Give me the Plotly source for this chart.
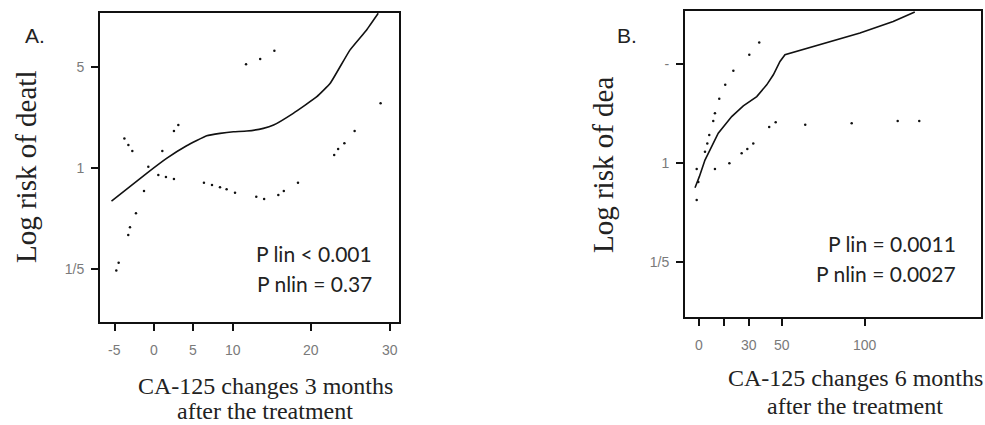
import plotly.graph_objects as go

# ---- Panel A data ----
a_curve_x = [-5.4, -0.93, 1.6, 4.15, 6.7, 8.39, 10.1, 11.8, 13.9, 15.2, 17.7, 20.7, 22.4, 24.9, 27.0, 28.5]
a_curve_y = [0.588, 0.915, 1.161, 1.42, 1.665, 1.729, 1.773, 1.794, 1.873, 1.975, 2.38, 3.10, 3.84, 6.52, 8.96, 11.73]
a_pts_x = [-3.76, -3.25, -2.75, -0.72, -1.27, 0.55, 1.52, 2.54, 1.06, 2.54, 3.09, 6.35, 7.37, 8.39,
           9.23, 10.3, 11.7, 13.5, 15.3, 13.0, 14.0, 15.8, 16.5, 18.3, 22.9, 23.4, 24.2, 25.5, 28.8,
           -2.29, -3.05, -3.27, -4.49, -4.79]
a_pts_y = [1.595, 1.436, 1.304, 1.016, 0.691, 0.891, 0.862, 0.835, 1.304, 1.794, 1.975, 0.788, 0.759, 0.732,
           0.709, 0.672, 5.20, 5.65, 6.45, 0.630, 0.607, 0.648, 0.691, 0.788, 1.225, 1.347, 1.476, 1.794, 2.79,
           0.483, 0.387, 0.342, 0.220, 0.194]
a_xticks = [-5, 0, 5, 10, 20, 30]
a_xtick_text = ["-5", "0", "5", "10", "20", "30"]
a_yticks = [0.2, 1, 5]
a_ytick_text = ["1/5", "1", "5"]

# ---- Panel B data ----
b_curve_x = [-2.4, 0.2, 3.6, 7.6, 11.6, 19.7, 26.7, 34.8, 40.8, 44.8, 48.8, 51.8, 76.9, 97, 117, 130]
b_curve_y = [0.673, 0.805, 1.054, 1.310, 1.628, 2.135, 2.54, 2.953, 3.572, 4.203, 5.213, 5.817, 7.034, 8.277, 9.99, 11.64]
b_pts_x = [-1.4, -1.4, -0.4, 9.6, 18.3, 25.7, 29.1, 32.7, 3.6, 5.0, 6.2, 8.6, 9.6, 12.2, 15.8, 20.7,
           30.3, 36.3, 42.3, 46.2, 64, 92, 119.7, 132.7]
b_pts_y = [0.551, 0.911, 0.737, 0.911, 1.0, 1.175, 1.261, 1.380, 1.207, 1.380, 1.585, 1.988, 2.254, 2.847,
           3.572, 4.481, 5.817, 7.10, 1.805, 1.947, 1.865, 1.916, 1.988, 1.988]
b_xticks = [0, 15, 30, 50, 100]
b_xtick_text = ["0", "", "30", "50", "100"]
b_yticks = [0.2, 1, 5]
b_ytick_text = ["1/5", "1", "-"]

W, H = 985, 425

fig = go.Figure()
fig.add_trace(go.Scatter(x=a_pts_x, y=a_pts_y, mode="markers", marker=dict(size=2.5, color="#111"),
                         xaxis="x", yaxis="y", showlegend=False))
fig.add_trace(go.Scatter(x=a_curve_x, y=a_curve_y, mode="lines",
                         line=dict(color="#111", width=1.6, shape="spline", smoothing=0.35),
                         xaxis="x", yaxis="y", showlegend=False))
fig.add_trace(go.Scatter(x=b_pts_x, y=b_pts_y, mode="markers", marker=dict(size=2.5, color="#111"),
                         xaxis="x2", yaxis="y2", showlegend=False))
fig.add_trace(go.Scatter(x=b_curve_x, y=b_curve_y, mode="lines", line=dict(color="#111", width=1.6),
                         xaxis="x2", yaxis="y2", showlegend=False))

tickfont = dict(family="Liberation Sans, Arial", size=14, color="#7a7a7a")
base = dict(showgrid=False, zeroline=False)
frame = dict(showline=True, linecolor="#111", linewidth=2, mirror=True, ticks="outside",
             ticklen=7, tickwidth=1.5, tickcolor="#111")

fig.update_layout(
    width=W, height=H, margin=dict(l=0, r=0, t=0, b=0),
    paper_bgcolor="white", plot_bgcolor="white",
    xaxis=dict(domain=[100 / W, 399 / W], range=[-6.86, 31.14], tickvals=a_xticks, showticklabels=False,
               anchor="y", **base, **frame),
    yaxis=dict(domain=[1 - 322 / H, 1 - 13 / H], type="log", range=[-1.068, 1.071], tickvals=a_yticks,
               ticktext=a_ytick_text, anchor="x", ticklabelstandoff=4, tickfont=tickfont, **base, **frame),
    xaxis2=dict(domain=[685 / W, 981 / W], range=[-8.43, 169.9], tickvals=b_xticks, showticklabels=False,
                anchor="y2", **base, **frame),
    yaxis2=dict(domain=[1 - 317 / H, 1 - 11 / H], type="log", range=[-1.083, 1.073], tickvals=b_yticks,
                ticktext=b_ytick_text, anchor="x2", ticklabelstandoff=4, tickfont=tickfont, **base, **frame),
)

# x tick labels placed at the tick values through each x axis
for v, t in zip(a_xticks, a_xtick_text):
    fig.add_annotation(x=v, xref="x", y=1 - 350 / H, yref="paper", text=t, showarrow=False,
                       font=tickfont, xanchor="center", yanchor="middle")
for v, t in zip(b_xticks, b_xtick_text):
    if t:
        fig.add_annotation(x=v, xref="x2", y=1 - 345 / H, yref="paper", text=t, showarrow=False,
                           font=tickfont, xanchor="center", yanchor="middle")

serif = "Liberation Serif, Times New Roman, serif"
sans = "Liberation Sans, Arial, sans-serif"
pfont = dict(family="Lato, sans-serif", size=21, color="#222")
tfont = dict(family=serif, size=24, color="#222")

def px(x, y):
    return dict(x=x / W, y=1 - y / H, xref="paper", yref="paper")

annots = [
    dict(text="A.", font=dict(family=sans, size=21, color="#222"), xanchor="center", yanchor="middle", **px(35, 35)),
    dict(text="B.", font=dict(family=sans, size=21, color="#222"), xanchor="center", yanchor="middle", **px(627, 35)),
    dict(text="Log risk of deatl", textangle=-90, font=dict(family=serif, size=29, color="#222"),
         xanchor="center", yanchor="middle", **px(26, 167)),
    dict(text="Log risk of dea", textangle=-90, font=dict(family=serif, size=29, color="#222"),
         xanchor="center", yanchor="middle", **px(603, 165)),
    dict(text="CA-125 changes 3 months", font=tfont, xanchor="center", yanchor="middle", **px(265, 386)),
    dict(text="after the treatment", font=tfont, xanchor="center", yanchor="middle", **px(265, 411)),
    dict(text="CA-125 changes 6 months", font=tfont, xanchor="center", yanchor="middle", **px(855, 378)),
    dict(text="after the treatment", font=tfont, xanchor="center", yanchor="middle", **px(855, 406)),
    dict(text="P lin < 0.001", font=pfont, xanchor="right", yanchor="middle", **px(374, 253)),
    dict(text="P nlin = 0.37", font=pfont, xanchor="right", yanchor="middle", **px(374, 283)),
    dict(text="P lin = 0.0011", font=pfont, xanchor="right", yanchor="middle", **px(958, 243)),
    dict(text="P nlin = 0.0027", font=pfont, xanchor="right", yanchor="middle", **px(958, 273)),
]
for a in annots:
    a["showarrow"] = False
    fig.add_annotation(**a)

fig.write_html("out.html")
